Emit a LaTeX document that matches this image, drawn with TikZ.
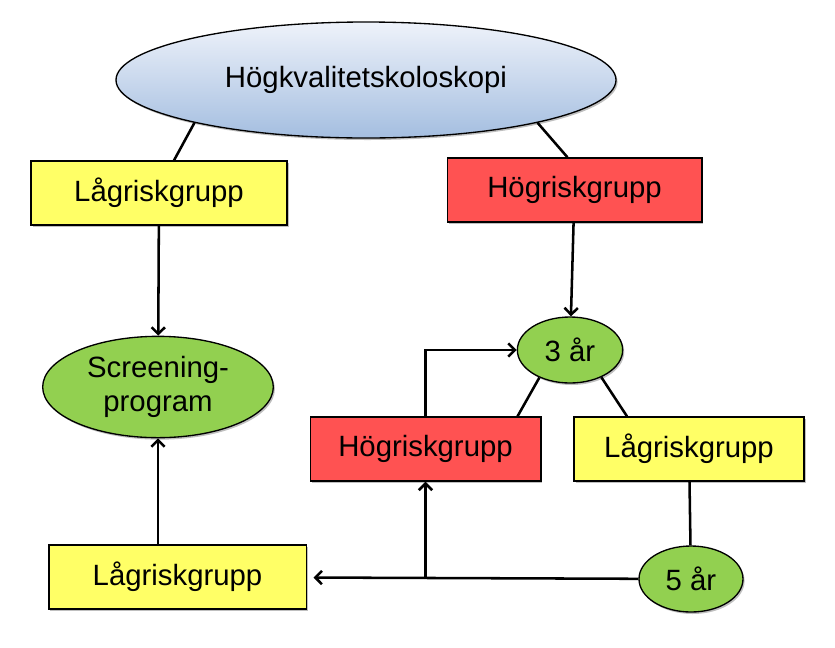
\documentclass[tikz,border=0pt]{standalone}
\usepackage{fontspec}
\setmainfont{Liberation Sans}
\usetikzlibrary{shapes,arrows.meta,positioning,calc,shadows}
\definecolor{lowrisk}{RGB}{255,255,102}
\definecolor{highrisk}{RGB}{255,82,82}
\definecolor{interval}{RGB}{146,208,80}
\definecolor{toplight}{RGB}{238,242,250}
\definecolor{topdark}{RGB}{164,190,224}

\begin{document}
\begin{tikzpicture}[x=0.75pt,y=-0.75pt,
  shade/.style={drop shadow={shadow xshift=1.2pt,shadow yshift=-1.5pt,opacity=0.25,fill=black}},
  group/.style={draw,line width=1pt,inner sep=0pt,minimum height=48pt,font=\fontsize{22}{26}\selectfont,shade},
  lowbox/.style={group,fill=lowrisk},
  highbox/.style={group,fill=highrisk},
  stage/.style={ellipse,draw,line width=1pt,fill=interval,inner sep=0pt,align=center,font=\fontsize{22}{26}\selectfont,shade},
  link/.style={line width=1.9pt},
  arr/.style={link,-{Straight Barb[length=5pt,width=10pt]}}
]
\useasboundingbox (0,0) rectangle (835,647);
% start
\node[ellipse,draw,line width=1pt,top color=toplight,bottom color=topdark,minimum width=375pt,minimum height=87pt,
      inner sep=0pt,font=\fontsize{22}{26}\selectfont,shade] (top) at (366,80) {Högkvalitetskoloskopi};
\node[lowbox,minimum width=192pt]  (lowL) at (159,193) {Lågriskgrupp};
\node[highbox,minimum width=191pt] (hiR)  at (574.5,190) {Högriskgrupp};
% follow-up
\node[stage,minimum width=173pt,minimum height=76pt] (screen) at (158,387) {Screening-\\program};
\node[stage,minimum width=79pt,minimum height=49.5pt] (three) at (570,350) {3 år};
\node[highbox,minimum width=173pt]  (hiM)  at (425.5,449) {Högriskgrupp};
\node[lowbox,minimum width=172.5pt] (lowM) at (689,449) {Lågriskgrupp};
\node[stage,minimum width=78pt,minimum height=49.5pt] (five) at (691,579) {5 år};
\node[lowbox,minimum width=193pt]  (lowB) at (177.5,577) {Lågriskgrupp};
\coordinate (split) at (hiM |- five);

% connectors
\draw[link] (top.194) -- ($(lowL.north)+(15,0)$);
\draw[link] (top.346) -- ($(hiR.north)+(-7,0)$);
\draw[arr] (lowL) -- (screen);
\draw[arr] (hiR) -- (three);
\draw[link] (three.222) -- ($(hiM.north)+(92,0)$);
\draw[link] (three.319) -- ($(lowM.north)+(-62,0)$);
\draw[link] (lowM) -- (five);
\draw[arr,shorten >=5pt] (five) -- (lowB);
\draw[arr] (split) -- (hiM);
\draw[arr] (hiM.north) |- (three);
\draw[arr] (screen |- lowB.north) -- (screen);
\end{tikzpicture}
\end{document}
